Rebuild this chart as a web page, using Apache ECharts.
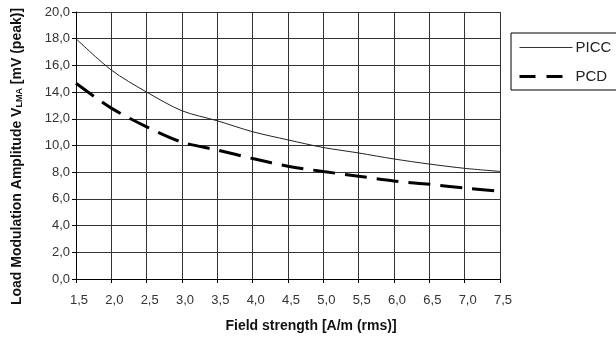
<!DOCTYPE html>
<html><head><meta charset="utf-8">
<script src="https://cdn.jsdelivr.net/npm/echarts@6/dist/echarts.min.js"></script>
<style>html,body{margin:0;padding:0;background:#fff}#c{width:616px;height:338px}</style>
</head><body><div id="c"></div>
<script>
const fieldStrength = [1.5, 2.0, 2.5, 3.0, 3.5, 4.0, 4.5, 5.0, 5.5, 6.0, 6.5, 7.0, 7.5];
const picc = [18.0, 15.65, 14.0, 12.6, 11.85, 11.03, 10.42, 9.85, 9.44, 8.99, 8.61, 8.29, 8.06];
const pcd  = [14.66, 12.8, 11.4, 10.25, 9.66, 9.02, 8.45, 8.05, 7.7, 7.34, 7.1, 6.81, 6.58];
const seriesNames = ['PICC', 'PCD'];

const fmt = v => v.toFixed(1).replace('.', ',');
const chart = echarts.init(document.getElementById('c'));
const font = 'Liberation Sans, Arial, sans-serif';
chart.setOption({
  animation: false,
  textStyle: {fontFamily: font},
  grid: {left: 76, top: 12, width: 424, height: 267},
  legend: {
    orient: 'vertical', left: 511, top: 33,
    padding: [7, 30, 6, 7], itemGap: 14, itemWidth: 53, itemHeight: 14,
    borderColor: '#000', borderWidth: 1, backgroundColor: '#fff',
    textStyle: {fontFamily: font, fontSize: 15, color: '#222', padding: [0,0,0,-2]},
    data: [
      {name: seriesNames[0], itemStyle: {opacity: 0}, lineStyle: {color: '#333', width: 1, type: 'solid'}},
      {name: seriesNames[1], itemStyle: {opacity: 0}, lineStyle: {color: '#000', width: 3, type: [16, 11]}}
    ]
  },
  xAxis: {
    type: 'value', min: 1.5, max: 7.5, interval: 0.5,
    name: 'Field strength [A/m (rms)]', nameLocation: 'middle', nameGap: 40,
    nameTextStyle: {fontFamily: font, fontSize: 14, fontWeight: 'bold', color: '#111', padding: [0,0,0,46]},
    axisLine: {lineStyle: {color: '#000', width: 1}},
    axisTick: {show: true, length: 4, lineStyle: {color: '#000'}},
    axisLabel: {formatter: fmt, fontSize: 13, color: '#333', margin: 15, padding: [0,0,0,6]},
    splitLine: {show: true, lineStyle: {color: '#333', width: 1}}
  },
  yAxis: {
    type: 'value', min: 0, max: 20, interval: 2,
    name: '{a|Load Modulation Amplitude V}{s|LMA}{a| [mV (peak)]}',
    nameLocation: 'middle', nameGap: 52, nameRotate: 90,
    nameTextStyle: {
      color: '#111', padding: [0,22,0,0],
      rich: {
        a: {fontFamily: font, fontSize: 14, fontWeight: 'bold', color: '#111'},
        s: {fontFamily: font, fontSize: 9, fontWeight: 'bold', color: '#111', padding: [5,0,0,0]}
      }
    },
    axisLine: {show: true, lineStyle: {color: '#000', width: 1}},
    axisTick: {show: true, length: 4, lineStyle: {color: '#000'}},
    axisLabel: {formatter: fmt, fontSize: 13, color: '#333', margin: 6},
    splitLine: {show: true, lineStyle: {color: '#333', width: 1}}
  },
  series: [
    {name: seriesNames[0], type: 'line', data: fieldStrength.map((x,i)=>[x, picc[i]]),
     smooth: 0.3, symbol: 'none', lineStyle: {color: '#222', width: 1}, itemStyle: {color: '#222'}},
    {name: seriesNames[1], type: 'line', data: fieldStrength.map((x,i)=>[x, pcd[i]]),
     smooth: 0.3, symbol: 'none', lineStyle: {color: '#000', width: 3, type: [22, 10]}, itemStyle: {color: '#000'}}
  ]
});
</script></body></html>
